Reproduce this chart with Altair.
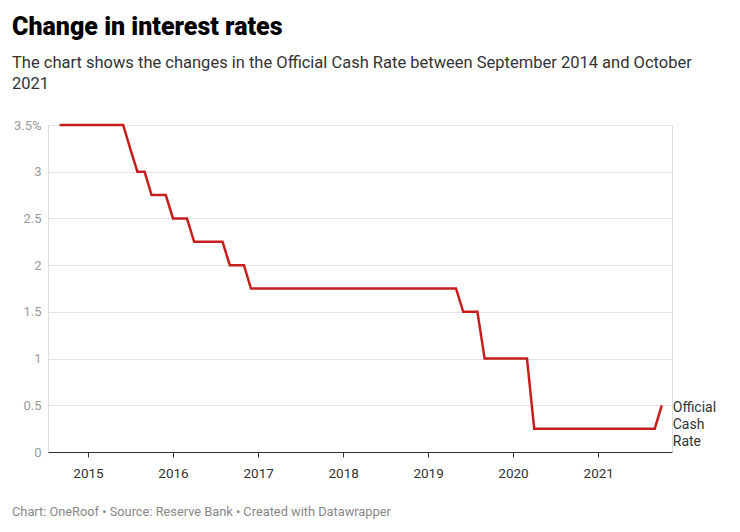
import altair as alt
import pandas as pd

# Official Cash Rate, first-of-month values, Sep 2014 .. Oct 2021
start_month = "2014-09-01"
ocr_values = [
    3.5, 3.5, 3.5, 3.5,                                                  # 2014 Sep-Dec
    3.5, 3.5, 3.5, 3.5, 3.5, 3.5, 3.25, 3.0, 3.0, 2.75, 2.75, 2.75,      # 2015
    2.5, 2.5, 2.5, 2.25, 2.25, 2.25, 2.25, 2.25, 2.0, 2.0, 2.0, 1.75,    # 2016
    1.75, 1.75, 1.75, 1.75, 1.75, 1.75, 1.75, 1.75, 1.75, 1.75, 1.75, 1.75,  # 2017
    1.75, 1.75, 1.75, 1.75, 1.75, 1.75, 1.75, 1.75, 1.75, 1.75, 1.75, 1.75,  # 2018
    1.75, 1.75, 1.75, 1.75, 1.75, 1.5, 1.5, 1.5, 1.0, 1.0, 1.0, 1.0,     # 2019
    1.0, 1.0, 1.0, 0.25, 0.25, 0.25, 0.25, 0.25, 0.25, 0.25, 0.25, 0.25,  # 2020
    0.25, 0.25, 0.25, 0.25, 0.25, 0.25, 0.25, 0.25, 0.25, 0.5,           # 2021 Jan-Oct
]
series_name = "Official Cash Rate"
series_label = "Official\nCash\nRate"
year_ticks = [2015, 2016, 2017, 2018, 2019, 2020, 2021]
y_ticks = [0, 0.5, 1, 1.5, 2, 2.5, 3, 3.5]

title_text = "Change in interest rates"
subtitle_lines = [
    "The chart shows the changes in the Official Cash Rate between September 2014 and October",
    "2021",
]
footer_text = "Chart: OneRoof \u2022 Source: Reserve Bank \u2022 Created with Datawrapper"

dates = pd.date_range(start_month, periods=len(ocr_values), freq="MS")
df = pd.DataFrame({"date": dates, "rate": ocr_values, "series": series_name})
df_last = df.tail(1).assign(label=series_label)

RED = "#c71e1d"
FONT = "Roboto"

x_enc = alt.X(
    "date:T",
    scale=alt.Scale(domain=[alt.DateTime(year=2014, month=7, date=13),
                            alt.DateTime(year=2021, month=11, date=14)]),
    axis=alt.Axis(
        values=[alt.DateTime(year=y, month=1, date=1) for y in year_ticks],
        format="%Y", title=None, grid=False,
        domainColor="#333333", domainWidth=1,
        tickColor="#333333", tickSize=5, tickWidth=1,
        labelColor="#333333", labelFontSize=13.5, labelFont=FONT, labelPadding=9,
    ),
)
y_enc = alt.Y(
    "rate:Q",
    scale=alt.Scale(domain=[0, 3.5], nice=False),
    axis=alt.Axis(
        values=y_ticks, format="~g", title=None,
        labelExpr="datum.value == 3.5 ? datum.label + '%' : datum.label",
        domain=False, ticks=False, gridColor="#e3e3e3", gridWidth=1,
        labelColor="#999999", labelFontSize=13, labelFont=FONT, labelPadding=7,
    ),
)

line = alt.Chart(df).mark_line(color=RED, strokeWidth=2.5, strokeJoin="miter").encode(
    x=x_enc, y=y_enc
)

label = alt.Chart(df_last).mark_text(
    align="left", baseline="top", dx=11, dy=-4, lineBreak="\n", lineHeight=17,
    fontSize=14, font=FONT, color="#333333",
).encode(x="date:T", y="rate:Q", text="label:N")

footer = alt.Chart(pd.DataFrame({"t": [footer_text]})).mark_text(
    align="left", baseline="middle", fontSize=12.8, font=FONT, color="#888888",
).encode(x=alt.value(-36), y=alt.value(387), text="t:N")

chart = alt.layer(line, label, footer).properties(
    width=624,
    height=327,
    autosize=alt.AutoSizeParams(type="none"),
    padding={"left": 40, "top": 117, "right": 50, "bottom": 72},
    title=alt.TitleParams(
        text=title_text, subtitle=subtitle_lines, anchor="start",
        font=FONT, fontSize=25, fontWeight=900, color="#000000",
        subtitleFont=FONT, subtitleFontSize=16.5, subtitleColor="#333333",
        subtitleLineHeight=21, subtitlePadding=15, offset=27,
    ),
).configure_view(stroke=None).configure(background="white")

chart.save("out.html", embed_options={"renderer": "svg", "actions": False})
